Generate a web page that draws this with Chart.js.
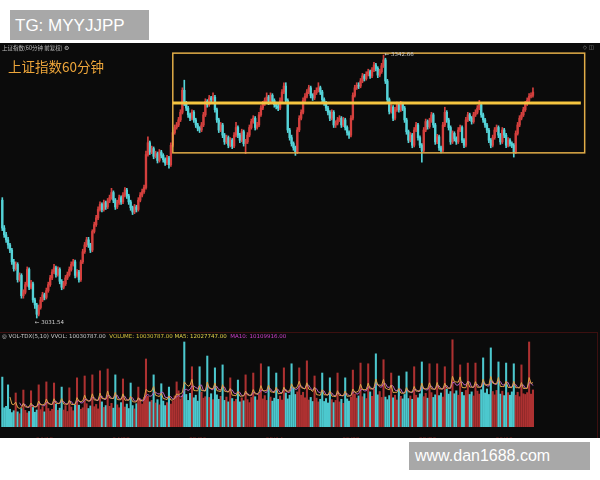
<!DOCTYPE html>
<html>
<head>
<meta charset="utf-8">
<script src="https://cdn.jsdelivr.net/npm/chart.js@4.4.1/dist/chart.umd.min.js"></script>
<style>
  body { margin: 0; width: 600px; height: 480px; background: #fff; position: relative; overflow: hidden; font-family: "Liberation Sans", Arial, sans-serif; }
  .tag { position: absolute; background: #a8a8a8; color: #fff; line-height: 1; }
  #panel { position: absolute; left: 0; top: 43px; width: 600px; height: 395px; background: #0b0b0b; }
  #priceCanvas { position: absolute; left: 0; top: 0; }
  #volBox { position: absolute; left: 0; top: 289px; width: 597px; height: 105px; border-top: 1px solid #3c1010; border-right: 1px solid #3c1010; }
  #volCanvas { position: absolute; left: 0; top: 289px; }
  .tiny { position: absolute; font-family: "DejaVu Sans", sans-serif; font-size: 5.5px; white-space: nowrap; }
</style>
</head>
<body>
<div class="tag" style="left:10px;top:10px;width:139px;height:30px;font-size:17px;padding:7px 0 0 5px;box-sizing:border-box;">TG: MYYJJPP</div>
<div id="panel">
  <canvas id="priceCanvas" width="600" height="289"></canvas>
  <div id="volBox"></div>
  <canvas id="volCanvas" width="600" height="106"></canvas>
  <div class="tiny" style="left:2px;top:1px;color:#bdbdbd;font-family:'Noto Sans CJK SC';font-size:5.5px;">上证指数(60分钟 前复权) ⚙</div>
  <div style="position:absolute;left:8px;top:13px;color:#eea63a;font-family:'Noto Sans CJK SC';font-size:13.5px;">上证指数60分钟</div>
  <div class="tiny" style="right:6px;top:1px;color:#8a8a8a;">◇ ◫</div>
  <div class="tiny" style="left:2px;top:290px;">
    <span style="color:#c9c9c9">◎ VOL-TDX(5,10) VVOL: 10030787.00</span>&nbsp;
    <span style="color:#d6c23c">VOLUME: 10030787.00</span>
    <span style="color:#e2d24a">MA5: 12027747.00</span>&nbsp;
    <span style="color:#cc3fcc">MA10: 10109916.00</span>
  </div>
</div>
<div class="tag" style="left:409px;top:442px;width:181px;height:28px;font-size:16px;padding:6px 0 0 6px;box-sizing:border-box;">www.dan1688.com</div>

<script>
// 60分钟K线: 收盘 / 最高 / 最低 (开盘 = 上一根收盘)
const firstOpen = 3171;
const closes = [
  3138,3130,3124,3118,3112,3098,3090,3095,3077,3082,
  3058,3062,3071,3089,3068,3072,3053,3047,3036,3044,
  3053,3059,3056,3064,3071,3079,3086,3091,3083,3089,
  3075,3068,3072,3079,3083,3089,3095,3098,3082,3086,
  3077,3098,3110,3118,3124,3118,3112,3134,3142,3150,
  3160,3166,3160,3168,3163,3170,3174,3180,3171,3163,
  3168,3174,3169,3177,3183,3176,3169,3162,3157,3163,
  3160,3171,3177,3181,3186,3225,3239,3228,3232,3223,
  3226,3218,3228,3224,3219,3215,3221,3213,3236,3251,
  3257,3260,3266,3275,3301,3286,3280,3272,3268,3275,
  3266,3260,3256,3254,3260,3272,3288,3284,3292,3290,
  3293,3278,3266,3254,3260,3248,3240,3245,3236,3242,
  3235,3248,3257,3248,3242,3252,3238,3240,3248,3257,
  3264,3268,3257,3260,3272,3280,3285,3289,3293,3287,
  3295,3289,3284,3282,3280,3289,3299,3306,3289,3254,
  3245,3238,3233,3228,3254,3268,3275,3289,3294,3299,
  3304,3295,3292,3298,3301,3304,3299,3290,3286,3280,
  3275,3268,3275,3260,3262,3266,3268,3260,3266,3257,
  3251,3248,3268,3295,3304,3307,3306,3312,3318,3315,
  3320,3323,3318,3325,3331,3327,3319,3323,3330,3337,
  3312,3290,3276,3281,3268,3278,3284,3278,3285,3280,
  3266,3252,3242,3248,3236,3254,3260,3245,3236,3230,
  3254,3264,3258,3265,3272,3260,3240,3246,3233,3230,
  3260,3275,3266,3257,3240,3250,3244,3240,3254,3257,
  3242,3236,3266,3272,3268,3264,3272,3275,3280,3284,
  3272,3266,3260,3254,3242,3236,3245,3254,3257,3248,
  3240,3254,3248,3236,3242,3238,3236,3228,3250,3260,
  3268,3272,3278,3285,3289,3294,3295,3299
];
const highs = [
  3174,3141,3133,3127,3120,3114,3101,3098,3097,3085,
  3084,3065,3074,3092,3091,3076,3074,3055,3049,3047,
  3056,3062,3061,3067,3074,3082,3089,3095,3093,3092,
  3091,3077,3075,3082,3086,3092,3098,3101,3100,3089,
  3088,3100,3113,3121,3127,3127,3120,3136,3145,3153,
  3163,3169,3168,3171,3170,3173,3177,3185,3182,3173,
  3171,3177,3176,3180,3186,3185,3178,3171,3164,3166,
  3165,3174,3180,3184,3189,3229,3246,3241,3235,3234,
  3229,3228,3231,3230,3226,3221,3224,3223,3239,3254,
  3260,3263,3269,3278,3304,3313,3288,3282,3274,3278,
  3277,3268,3262,3258,3263,3275,3291,3290,3295,3294,
  3298,3295,3280,3268,3263,3262,3250,3248,3247,3245,
  3244,3251,3263,3259,3250,3255,3254,3243,3251,3260,
  3267,3271,3270,3263,3275,3283,3288,3292,3298,3295,
  3298,3297,3291,3287,3285,3292,3302,3310,3310,3291,
  3256,3248,3240,3235,3257,3271,3278,3292,3297,3302,
  3307,3306,3297,3301,3304,3310,3306,3301,3292,3288,
  3282,3277,3278,3277,3265,3269,3271,3270,3269,3268,
  3259,3253,3271,3298,3307,3310,3310,3315,3321,3320,
  3323,3326,3325,3328,3334,3333,3329,3326,3333,3342.66,
  3339,3314,3292,3284,3283,3281,3287,3286,3288,3287,
  3282,3268,3254,3251,3250,3257,3263,3262,3247,3238,
  3257,3267,3266,3268,3275,3274,3262,3249,3248,3235,
  3263,3281,3277,3268,3259,3253,3252,3246,3257,3260,
  3259,3244,3269,3275,3274,3270,3275,3278,3283,3289,
  3286,3274,3268,3262,3256,3244,3248,3257,3260,3259,
  3250,3257,3256,3250,3245,3244,3240,3238,3253,3263,
  3271,3275,3281,3288,3292,3297,3298,3304
];
const lows = [
  3135,3127,3121,3114,3109,3095,3087,3088,3074,3075,
  3055,3055,3060,3069,3065,3066,3050,3043,3031.54,3034,
  3042,3051,3053,3054,3062,3069,3077,3084,3080,3081,
  3072,3065,3066,3070,3077,3081,3087,3093,3079,3080,
  3074,3075,3096,3108,3116,3115,3109,3110,3132,3140,
  3148,3158,3157,3158,3160,3161,3168,3172,3168,3160,
  3161,3166,3166,3167,3175,3173,3166,3159,3154,3155,
  3157,3158,3169,3175,3179,3184,3223,3225,3226,3220,
  3221,3215,3216,3221,3216,3212,3213,3209,3211,3234,
  3249,3255,3258,3264,3273,3283,3277,3269,3265,3266,
  3263,3257,3253,3251,3252,3258,3270,3281,3282,3287,
  3288,3275,3263,3251,3252,3245,3237,3238,3233,3234,
  3232,3233,3246,3245,3239,3240,3235,3226,3238,3246,
  3255,3262,3254,3255,3258,3270,3278,3283,3287,3284,
  3285,3286,3281,3279,3277,3278,3287,3297,3286,3251,
  3242,3235,3230,3224,3226,3252,3266,3273,3287,3292,
  3297,3292,3289,3290,3296,3299,3296,3287,3283,3277,
  3272,3265,3266,3257,3257,3260,3264,3257,3258,3254,
  3248,3244,3246,3266,3293,3302,3303,3304,3310,3312,
  3313,3318,3315,3316,3323,3324,3316,3317,3321,3328,
  3309,3287,3273,3274,3265,3266,3276,3275,3276,3277,
  3263,3249,3239,3240,3233,3234,3252,3242,3233,3216,
  3228,3252,3255,3256,3263,3257,3237,3238,3230,3227,
  3228,3258,3263,3254,3237,3238,3241,3237,3238,3252,
  3239,3233,3234,3264,3265,3261,3262,3270,3273,3278,
  3269,3263,3257,3251,3239,3233,3234,3243,3252,3245,
  3237,3238,3245,3233,3234,3235,3233,3222,3226,3248,
  3258,3266,3270,3276,3283,3287,3292,3293
];
// 成交量 (百万)
const vols = [
  13.5,5.2,5.6,11.4, 4.8,3.9,4.4,9.2, 4.1,3.6,5.0,10.0, 4.5,3.8,4.2,9.8,
  5.3,4.0,4.6,11.4, 4.7,5.5,4.1,12.2, 5.0,4.3,4.8,11.9, 6.2,4.5,5.1,10.8,
  4.6,5.8,4.2,10.6, 5.4,4.4,6.0,13.3, 5.9,4.8,5.2,13.8, 6.3,5.0,5.7,14.1,
  5.5,6.1,4.9,15.2, 6.8,5.3,5.8,15.7, 5.6,6.4,5.1,14.1, 6.0,5.2,6.6,13.0,
  5.4,6.2,5.0,11.9, 5.8,4.9,6.3,10.8, 7.5,6.2,8.0,18.4, 8.3,6.8,7.2,14.1,
  6.5,7.4,6.0,11.7, 7.0,5.8,6.6,10.8, 6.2,7.1,8.4,12.2, 9.8,7.6,8.5,23.0,
  8.8,7.2,9.1,16.3, 7.9,8.6,7.0,16.3, 9.4,7.8,8.2,19.2, 8.0,9.0,7.4,16.0,
  8.7,7.5,8.3,16.8, 7.2,8.1,6.8,13.3, 7.7,6.9,7.5,12.7, 6.8,7.9,7.1,14.1,
  7.4,6.6,8.0,14.6, 8.2,7.3,8.8,17.1, 7.6,8.5,7.2,16.3, 8.1,7.0,7.8,14.6,
  7.5,8.4,7.3,16.0, 9.2,7.6,8.6,17.1, 10.5,8.8,9.5,16.0, 8.6,9.4,7.9,17.9,
  7.3,8.0,6.9,13.8, 7.8,6.8,7.5,14.6, 6.9,7.7,6.5,13.3, 7.4,6.6,7.2,14.6,
  6.8,7.5,6.4,13.3, 7.6,7.0,8.1,15.4, 8.9,7.8,8.4,17.3, 8.2,9.0,7.7,17.1,
  9.5,8.3,10.2,19.8, 8.7,9.6,8.0,18.2, 8.1,7.4,8.5,14.6, 7.9,8.6,7.3,13.8,
  8.3,7.6,8.8,14.9, 7.7,8.4,7.5,16.3, 8.6,7.9,9.0,17.6, 8.2,9.1,7.8,17.1,
  9.3,8.0,8.7,17.1, 8.5,9.2,8.1,16.3, 10.2,8.9,9.6,23.6, 9.0,9.8,8.6,16.8,
  9.4,8.5,9.9,17.3, 8.8,9.5,8.4,17.3, 9.7,8.9,10.1,18.7, 9.2,10.3,8.8,21.4,
  9.6,8.7,9.9,17.6, 8.9,9.7,8.5,17.3, 9.3,8.6,9.5,17.1, 8.6,9.4,8.2,16.8,
  9.0,8.8,9.3,23.0, 8.9,10.03
];
const dateTicks = [22, 62, 102, 142, 182, 222, 262];
const dateLabels = ['04/12', '04/22', '05/06', '05/14', '05/22', '05/30', '06/10'];

// 箱体 (价位 / K线序号)
const boxTop = 3345, boxBottom = 3227, midLine = 3286;
const boxFrom = 89, boxTo = 304, midTo = 302;

const UP = '#d4403e', DOWN = '#55d3d8';
const VOL_UP = '#ad3131', VOL_DOWN = '#4cc8ce';

const opens = closes.map((c, i) => i ? closes[i - 1] : firstOpen);
const isUp = closes.map((c, i) => c >= opens[i]);
const idx = closes.map((c, i) => i);

function movingAvg(arr, n) {
  return arr.map((v, i) => {
    if (i < n - 1) return null;
    let s = 0;
    for (let k = i - n + 1; k <= i; k++) s += arr[k];
    return s / n;
  });
}
const ma5 = movingAvg(vols, 5);
const ma10 = movingAvg(vols, 10);

const xRange = { type: 'linear', min: -1.2, max: 312, offset: false };

const overlay = {
  id: 'overlay',
  afterDatasetsDraw(chart) {
    const { ctx, scales: { x, y } } = chart;
    const l = x.getPixelForValue(boxFrom), r = x.getPixelForValue(boxTo);
    const t = y.getPixelForValue(boxTop), b = y.getPixelForValue(boxBottom);
    ctx.save();
    ctx.strokeStyle = '#e2ad48';
    ctx.lineWidth = 1.5;
    ctx.strokeRect(l, t, r - l, b - t);
    const m = y.getPixelForValue(midLine);
    ctx.strokeStyle = '#f6c640';
    ctx.lineWidth = 3;
    ctx.beginPath();
    ctx.moveTo(l, m);
    ctx.lineTo(x.getPixelForValue(midTo), m);
    ctx.stroke();

    // 最高 / 最低 标注
    let hi = 0, lo = 0;
    highs.forEach((v, i) => { if (v > highs[hi]) hi = i; });
    lows.forEach((v, i) => { if (v < lows[lo]) lo = i; });
    ctx.font = '5.5px "DejaVu Sans"';
    ctx.fillStyle = '#cfcfcf';
    ctx.textBaseline = 'middle';
    ctx.fillText('← ' + highs[hi].toFixed(2), x.getPixelForValue(hi) + 1, y.getPixelForValue(highs[hi]) - 1);
    ctx.fillText('← ' + lows[lo].toFixed(2), x.getPixelForValue(lo) - 2, y.getPixelForValue(lows[lo]) + 5);
    ctx.restore();
  }
};

new Chart(document.getElementById('priceCanvas'), {
  type: 'bar',
  data: {
    datasets: [
      {
        data: idx.map(i => ({ x: i, y: [Math.min(lows[i], opens[i], closes[i]), Math.max(highs[i], opens[i], closes[i])] })),
        backgroundColor: idx.map(i => isUp[i] ? UP : DOWN),
        barThickness: 1,
        grouped: false
      },
      {
        data: idx.map(i => ({ x: i, y: [opens[i], closes[i]] })),
        backgroundColor: idx.map(i => isUp[i] ? UP : DOWN),
        barThickness: 1.7,
        grouped: false
      }
    ]
  },
  options: {
    responsive: false,
    animation: false,
    layout: { padding: 0 },
    plugins: { legend: { display: false }, tooltip: { enabled: false } },
    scales: {
      x: { ...xRange, display: false },
      y: { min: 3015, max: 3357, display: false }
    }
  },
  plugins: [overlay]
});

new Chart(document.getElementById('volCanvas'), {
  type: 'bar',
  data: {
    datasets: [
      {
        type: 'line',
        data: idx.map(i => ({ x: i, y: ma5[i] })),
        borderColor: '#dea24a',
        borderWidth: 1,
        pointRadius: 0,
        order: 0
      },
      {
        type: 'line',
        data: idx.map(i => ({ x: i, y: ma10[i] })),
        borderColor: '#b563bd',
        borderWidth: 1,
        pointRadius: 0,
        order: 1
      },
      {
        data: idx.map(i => ({ x: i, y: vols[i] })),
        backgroundColor: idx.map(i => isUp[i] ? VOL_UP : VOL_DOWN),
        barThickness: 1.4,
        order: 2
      }
    ]
  },
  options: {
    responsive: false,
    animation: false,
    layout: { padding: 0 },
    plugins: { legend: { display: false }, tooltip: { enabled: false } },
    scales: {
      x: {
        ...xRange,
        afterBuildTicks: axis => { axis.ticks = dateTicks.map(v => ({ value: v })); },
        afterFit: axis => { axis.height = 11; },
        ticks: {
          color: '#6a1f1f',
          font: { size: 7 },
          padding: 1,
          maxRotation: 0,
          callback: v => dateLabels[dateTicks.indexOf(v)]
        },
        grid: { display: false },
        border: { display: false }
      },
      y: { min: 0, max: 25.7, display: false }
    }
  }
});
</script>
</body>
</html>
